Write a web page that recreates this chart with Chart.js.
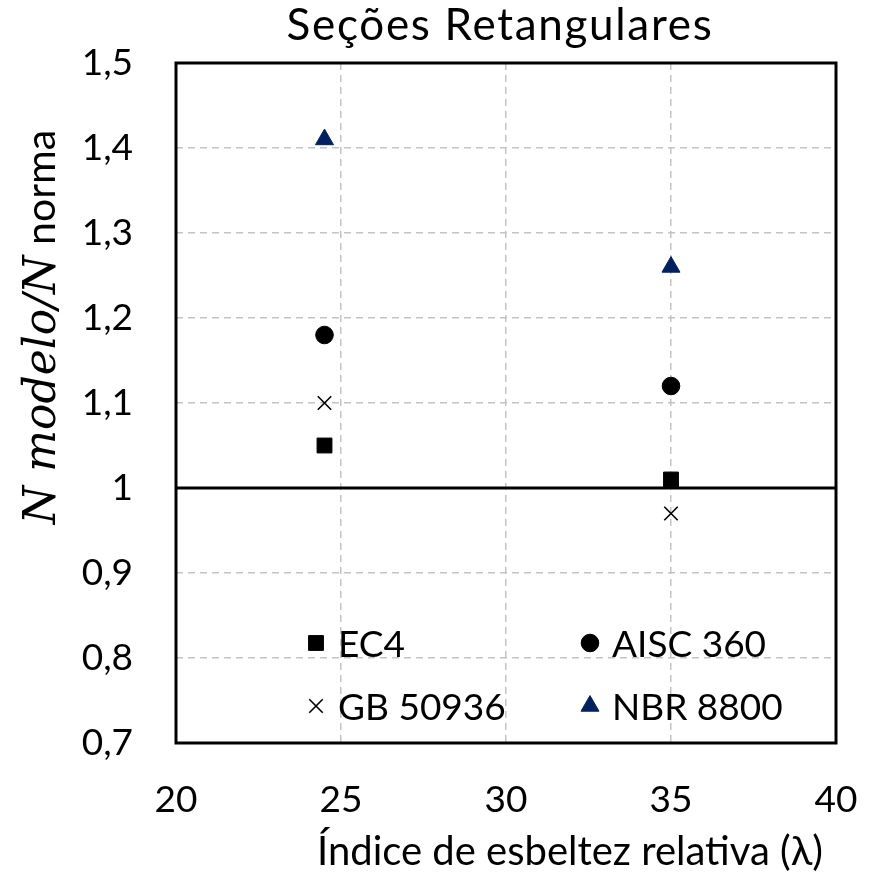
<!DOCTYPE html>
<html>
<head>
<meta charset="utf-8">
<script src="https://cdn.jsdelivr.net/npm/chart.js@4.4.1/dist/chart.umd.min.js"></script>
<style>
  html, body { margin: 0; padding: 0; background: #ffffff; }
  #wrap { width: 870px; height: 876px; }
</style>
</head>
<body>
<div id="wrap"><canvas id="c" width="870" height="876"></canvas></div>
<script>
// Relative slenderness index (λ) for the two rectangular section groups
const lambdaValues = [24.5, 35];

// N model / N code ratios per design code
const ec4 = [1.05, 1.01];
const aisc360 = [1.18, 1.12];
const gb50936 = [1.10, 0.97];
const nbr8800 = [1.41, 1.26];

// Unity reference line
const unityX = [20, 40];
const unityY = [1, 1];

// Axis ticks
const xTicks = [20, 25, 30, 35, 40];
const xTickLabels = ['20', '25', '30', '35', '40'];
const yTicks = [0.7, 0.8, 0.9, 1.0, 1.1, 1.2, 1.3, 1.4, 1.5];
const yTickLabels = ['0,7', '0,8', '0,9', '1', '1,1', '1,2', '1,3', '1,4', '1,5'];

const seriesNames = ['EC4', 'AISC 360', 'GB 50936', 'NBR 8800'];

const FONT = 'Lato, "Open Sans", sans-serif';
const NAVY = '#002060';

const toPoints = (xs, ys) => xs.map((x, i) => ({ x: x, y: ys[i] }));

const markerStyles = [
  { pointStyle: 'rect', radius: 10.5, color: '#000000', width: 1 },
  { pointStyle: 'circle', radius: 8.8, color: '#000000', width: 1 },
  { pointStyle: 'crossRot', radius: 9.5, color: '#000000', width: 1.6 },
  { pointStyle: 'triangle', radius: 10.4, color: NAVY, width: 1 }
];

const seriesValues = [ec4, aisc360, gb50936, nbr8800];

const datasets = [{
  label: 'unity',
  data: toPoints(unityX, unityY),
  showLine: true,
  borderColor: '#000000',
  borderWidth: 3,
  pointRadius: 0,
  inLegend: false,
  order: 5
}].concat(seriesValues.map((vals, i) => ({
  label: seriesNames[i],
  data: toPoints(lambdaValues, vals),
  showLine: false,
  pointStyle: markerStyles[i].pointStyle,
  pointRadius: markerStyles[i].radius,
  pointHoverRadius: markerStyles[i].radius,
  backgroundColor: markerStyles[i].color,
  borderColor: markerStyles[i].color,
  pointBorderWidth: markerStyles[i].width,
  inLegend: true,
  order: 1
})));

// Frame, titles and the in-plot legend
const decorations = {
  id: 'decorations',
  afterDraw(chart) {
    const ctx = chart.ctx;
    const area = chart.chartArea;
    ctx.save();

    // plot frame
    ctx.strokeStyle = '#000000';
    ctx.lineWidth = 3;
    ctx.strokeRect(area.left, area.top, area.right - area.left, area.bottom - area.top);

    // chart title
    ctx.fillStyle = '#000000';
    ctx.textAlign = 'center';
    ctx.textBaseline = 'alphabetic';
    ctx.font = '44px ' + FONT;
    ctx.letterSpacing = '1.7px';
    ctx.fillText('Seções Retangulares', 500, 40);
    ctx.letterSpacing = '0px';

    // x axis title
    ctx.font = '40px ' + FONT;
    ctx.fillText('Índice de esbeltez relativa (λ)', 570, 865);

    // y axis title (mixed italic math and upright text)
    const parts = [
      { text: 'N modelo/N', font: 'italic 44px "DejaVu Serif", "Liberation Serif", serif' },
      { text: ' norma', font: '41px ' + FONT }
    ];
    let total = 0;
    parts.forEach(p => { ctx.font = p.font; p.w = ctx.measureText(p.text).width; total += p.w; });
    ctx.translate(55, 327);
    ctx.rotate(-Math.PI / 2);
    ctx.textAlign = 'left';
    let cx = -total / 2;
    parts.forEach(p => { ctx.font = p.font; ctx.fillText(p.text, cx, 0); cx += p.w; });
    ctx.setTransform(1, 0, 0, 1, 0, 0);

    // legend inside plot, two columns
    const cols = [316, 590];
    const rows = [643, 706];
    const legendSets = chart.data.datasets.filter(d => d.inLegend);
    ctx.textAlign = 'left';
    ctx.textBaseline = 'middle';
    legendSets.forEach((ds, i) => {
      const x = cols[i % 2];
      const y = rows[Math.floor(i / 2)];
      ctx.fillStyle = ds.backgroundColor;
      ctx.strokeStyle = ds.borderColor;
      ctx.lineWidth = ds.pointBorderWidth;
      Chart.helpers.drawPoint(ctx, {
        pointStyle: ds.pointStyle,
        radius: ds.pointRadius,
        rotation: 0,
        borderWidth: ds.pointBorderWidth
      }, x, y);
      ctx.fillStyle = '#000000';
      ctx.font = '37px ' + FONT;
      ctx.fillText(ds.label, x + 22, y + 2);
    });

    ctx.restore();
  }
};

new Chart(document.getElementById('c'), {
  type: 'scatter',
  data: { datasets: datasets },
  options: {
    responsive: false,
    animation: false,
    devicePixelRatio: 1,
    layout: { padding: { left: 0, right: 34, top: 63, bottom: 0 } },
    plugins: {
      legend: { display: false },
      title: { display: false },
      tooltip: { enabled: false }
    },
    scales: {
      x: {
        type: 'linear',
        min: 20,
        max: 40,
        afterBuildTicks: s => { s.ticks = xTicks.map(v => ({ value: v })); },
        afterFit: s => { s.height = 133; s.paddingLeft = 0; s.paddingRight = 0; },
        ticks: {
          callback: (v, i) => xTickLabels[i],
          color: '#000000',
          font: { family: FONT, size: 37 },
          padding: 35,
          maxRotation: 0
        },
        grid: { color: '#c4c4c4', lineWidth: 1.5, drawTicks: false },
        border: { display: false, dash: [7, 5] }
      },
      y: {
        type: 'linear',
        min: 0.7,
        max: 1.5,
        afterBuildTicks: s => { s.ticks = yTicks.map(v => ({ value: v })); },
        afterFit: s => { s.width = 176; s.paddingTop = 0; s.paddingBottom = 0; },
        ticks: {
          callback: (v, i) => yTickLabels[i],
          color: '#000000',
          font: { family: FONT, size: 37 },
          padding: 43
        },
        grid: { color: '#c4c4c4', lineWidth: 1.5, drawTicks: false },
        border: { display: false, dash: [7, 5] }
      }
    }
  },
  plugins: [decorations]
});
</script>
</body>
</html>
